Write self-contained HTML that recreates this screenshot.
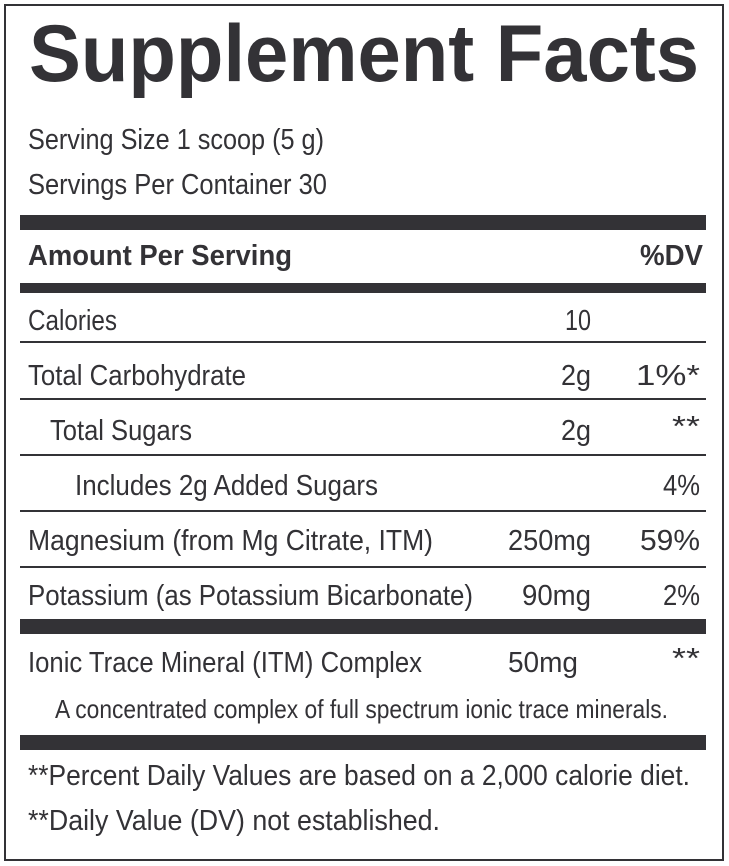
<!DOCTYPE html>
<html><head><meta charset="utf-8"><style>html,body{margin:0;padding:0;background:#fff}svg{display:block}</style></head>
<body>
<svg width="729" height="866" viewBox="0 0 729 866" xmlns="http://www.w3.org/2000/svg" font-family="Liberation Sans, sans-serif" fill="#333236">
<rect x="5" y="5" width="718" height="855" fill="#fff" stroke="#333236" stroke-width="2"/>
<text x="29" y="81" font-size="81" font-weight="bold" textLength="670" lengthAdjust="spacingAndGlyphs">Supplement Facts</text>
<g font-size="29" lengthAdjust="spacingAndGlyphs">
<text x="28" y="149" textLength="296" lengthAdjust="spacingAndGlyphs">Serving Size 1 scoop (5 g)</text>
<text x="28" y="194" textLength="299" lengthAdjust="spacingAndGlyphs">Servings Per Container 30</text>
</g>
<rect x="20" y="215" width="686" height="15"/>
<text x="28" y="265" font-size="29" font-weight="bold" textLength="264" lengthAdjust="spacingAndGlyphs">Amount Per Serving</text>
<text x="640" y="265" font-size="29" font-weight="bold" textLength="63" lengthAdjust="spacingAndGlyphs">%DV</text>
<rect x="20" y="283" width="686" height="10"/>
<g font-size="29">
<text x="28" y="330" textLength="89" lengthAdjust="spacingAndGlyphs">Calories</text>
<text x="565" y="330" textLength="26" lengthAdjust="spacingAndGlyphs">10</text>
<rect x="20" y="341" width="686" height="2"/>
<text x="28" y="385" textLength="218" lengthAdjust="spacingAndGlyphs">Total Carbohydrate</text>
<text x="561" y="385" textLength="30" lengthAdjust="spacingAndGlyphs">2g</text>
<text x="636" y="385" textLength="64" lengthAdjust="spacingAndGlyphs">1%*</text>
<rect x="20" y="398" width="686" height="2"/>
<text x="50" y="440" textLength="142" lengthAdjust="spacingAndGlyphs">Total Sugars</text>
<text x="561" y="440" textLength="30" lengthAdjust="spacingAndGlyphs">2g</text>
<text x="672" y="436" textLength="28" lengthAdjust="spacingAndGlyphs">**</text>
<rect x="20" y="454" width="686" height="2"/>
<text x="75" y="495" textLength="303" lengthAdjust="spacingAndGlyphs">Includes 2g Added Sugars</text>
<text x="663" y="495" textLength="37" lengthAdjust="spacingAndGlyphs">4%</text>
<rect x="20" y="510" width="686" height="2"/>
<text x="28" y="550" textLength="405" lengthAdjust="spacingAndGlyphs">Magnesium (from Mg Citrate, ITM)</text>
<text x="508" y="550" textLength="83" lengthAdjust="spacingAndGlyphs">250mg</text>
<text x="640" y="550" textLength="60" lengthAdjust="spacingAndGlyphs">59%</text>
<rect x="20" y="566" width="686" height="2"/>
<text x="28" y="605" textLength="445" lengthAdjust="spacingAndGlyphs">Potassium (as Potassium Bicarbonate)</text>
<text x="522" y="605" textLength="69" lengthAdjust="spacingAndGlyphs">90mg</text>
<text x="663" y="605" textLength="37" lengthAdjust="spacingAndGlyphs">2%</text>
</g>
<rect x="20" y="619" width="686" height="15"/>
<g font-size="29">
<text x="28" y="672" textLength="394" lengthAdjust="spacingAndGlyphs">Ionic Trace Mineral (ITM) Complex</text>
<text x="508" y="672" textLength="70" lengthAdjust="spacingAndGlyphs">50mg</text>
<text x="672" y="668" textLength="28" lengthAdjust="spacingAndGlyphs">**</text>
</g>
<text x="55" y="718" font-size="26" textLength="613" lengthAdjust="spacingAndGlyphs">A concentrated complex of full spectrum ionic trace minerals.</text>
<rect x="20" y="735" width="686" height="15"/>
<g font-size="29">
<text x="28" y="785" textLength="662" lengthAdjust="spacingAndGlyphs">**Percent Daily Values are based on a 2,000 calorie diet.</text>
<text x="28" y="830" textLength="412" lengthAdjust="spacingAndGlyphs">**Daily Value (DV) not established.</text>
</g>
</svg>
</body></html>
